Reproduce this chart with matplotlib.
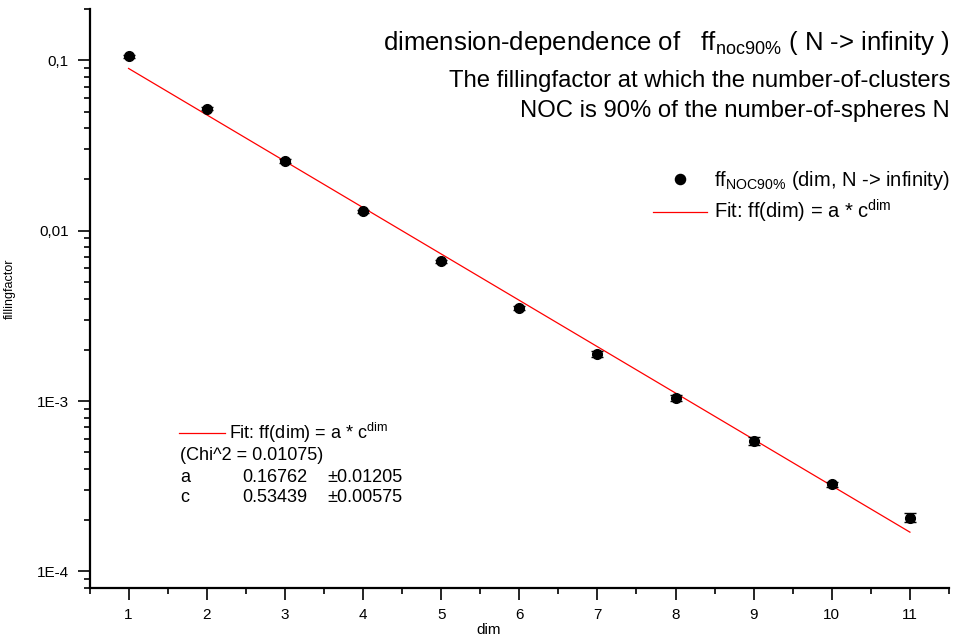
import numpy as np
import matplotlib
matplotlib.use("Agg")
import matplotlib.pyplot as plt
from matplotlib.ticker import MultipleLocator, FixedLocator, FixedFormatter, NullFormatter
from matplotlib.lines import Line2D

plt.rcParams["font.family"] = ["Liberation Sans", "DejaVu Sans"]
plt.rcParams["mathtext.fontset"] = "custom"
plt.rcParams["mathtext.rm"] = "Liberation Sans"
plt.rcParams["mathtext.it"] = "Liberation Sans:italic"
plt.rcParams["mathtext.bf"] = "Liberation Sans:bold"

# measured fillingfactor at NOC = 90% N, extrapolated to N -> infinity
dim = [1, 2, 3, 4, 5, 6, 7, 8, 9, 10, 11]
ff_noc90 = [0.1056, 0.0519, 0.02561, 0.01298, 0.00661, 0.00351,
            0.001894, 0.001042, 5.86e-4, 3.24e-4, 2.07e-4]
ff_err = [0.0022, 0.0010, 0.0006, 0.0003, 0.00015, 0.00009,
          0.00007, 0.00004, 0.00003, 0.000012, 0.000012]

# exponential fit ff(dim) = a * c^dim
a_fit, a_err = 0.16762, 0.01205
c_fit, c_err = 0.53439, 0.00575
chi2 = 0.01075

ytick_values = [1e-4, 1e-3, 1e-2, 1e-1]
ytick_labels = ["1E-4", "1E-3", "0,01", "0,1"]

W, H = 955, 635
fig = plt.figure(figsize=(W / 100, H / 100), dpi=100)
ax = fig.add_axes([89.5 / W, 47 / H, 859.5 / W, 579 / H])

ax.set_yscale("log")
ax.set_xlim(0.5, 11.5)
ax.set_ylim(8e-5, 0.2)

# data with error bars
ax.errorbar(dim, ff_noc90, yerr=ff_err, fmt="o", color="black",
            markersize=7, capsize=4.5, elinewidth=1.0, capthick=1.0, zorder=3)

# fitted curve
xf = np.linspace(dim[0], dim[-1], 200)
fit_line, = ax.plot(xf, a_fit * c_fit ** xf, color="#ff0000", lw=0.9, zorder=2)

# axes styling: only left and bottom axes, outward ticks
for s in ("top", "right"):
    ax.spines[s].set_visible(False)
for s in ("left", "bottom"):
    ax.spines[s].set_linewidth(1.6)

ax.xaxis.set_major_locator(MultipleLocator(1))
ax.xaxis.set_minor_locator(MultipleLocator(0.5))
ax.yaxis.set_major_locator(FixedLocator(ytick_values))
ax.yaxis.set_major_formatter(FixedFormatter(ytick_labels))
minor_y = [m * 10.0 ** e for e in range(-5, 0) for m in range(2, 10)]
ax.yaxis.set_minor_locator(FixedLocator(minor_y))
ax.yaxis.set_minor_formatter(NullFormatter())

ax.tick_params(axis="both", which="major", direction="out", length=8.5,
               width=1.2, labelsize=11, colors="black")
ax.tick_params(axis="both", which="minor", direction="out", length=4.5,
               width=1.2)
ax.tick_params(axis="x", which="major", pad=6)
ax.tick_params(axis="y", which="major", pad=6.5)

ax.set_ylabel("fillingfactor", fontsize=9)
ax.yaxis.set_label_coords((16 - 89.5) / 859.5, (588 - 288.5) / 579)
fig.text(489 / W, 1 - 633.5 / H, "dim", fontsize=11, ha="center", va="baseline")

# legend (top right)
data_handle = Line2D([], [], marker="o", ls="none", color="black", markersize=7.3)
leg = ax.legend(handles=[data_handle, fit_line],
                labels=[r"ff$_{\mathrm{NOC90\%}}$ (dim, N -> infinity)",
                        r"Fit: ff(dim) = a * c$^{\mathrm{dim}}$"],
                loc="upper right", bbox_to_anchor=(950 / W, 1 - 169 / H),
                bbox_transform=fig.transFigure, frameon=False, fontsize=14.5,
                handlelength=2.7, handletextpad=0.35, labelspacing=0.3,
                borderpad=0, borderaxespad=0, numpoints=1)
ax.add_artist(leg)

# fit parameter box (bottom left)
fit_box = ax.legend(handles=[Line2D([], [], color="#ff0000", lw=0.9)],
                    labels=[r"Fit: ff(dim) = a * c$^{\mathrm{dim}}$"],
                    loc="upper left", bbox_to_anchor=(179 / W, 1 - 421 / H),
                    bbox_transform=fig.transFigure, frameon=False, fontsize=13,
                    handlelength=2.55, handletextpad=0.2, borderpad=0,
                    borderaxespad=0)

fs_box = 13
fig.text(180 / W, 1 - 455 / H, f"(Chi^2 = {chi2:.5f})", fontsize=fs_box,
         va="center", ha="left")
rows = [("a", a_fit, a_err, 477), ("c", c_fit, c_err, 498)]
for name, val, err, py in rows:
    fig.text(180 / W, 1 - py / H, name, fontsize=fs_box, va="center", ha="left")
    fig.text(242 / W, 1 - py / H, f"{val:.5f}", fontsize=fs_box, va="center", ha="left")
    fig.text(327 / W, 1 - py / H, f"\u00b1{err:.5f}", fontsize=fs_box, va="center", ha="left")

# title block (top right)
fig.text(950 / W, 1 - 50 / H,
         r"dimension-dependence of   ff$_{\mathrm{noc90\%}}$ ( N -> infinity )",
         fontsize=18.5, ha="right", va="baseline")
fig.text(950 / W, 1 - 87.3 / H, "The fillingfactor at which the number-of-clusters",
         fontsize=17.2, ha="right", va="baseline")
fig.text(950 / W, 1 - 116.7 / H, "NOC is 90% of the number-of-spheres N",
         fontsize=17.2, ha="right", va="baseline")

fig.savefig("out.png", dpi=100)
